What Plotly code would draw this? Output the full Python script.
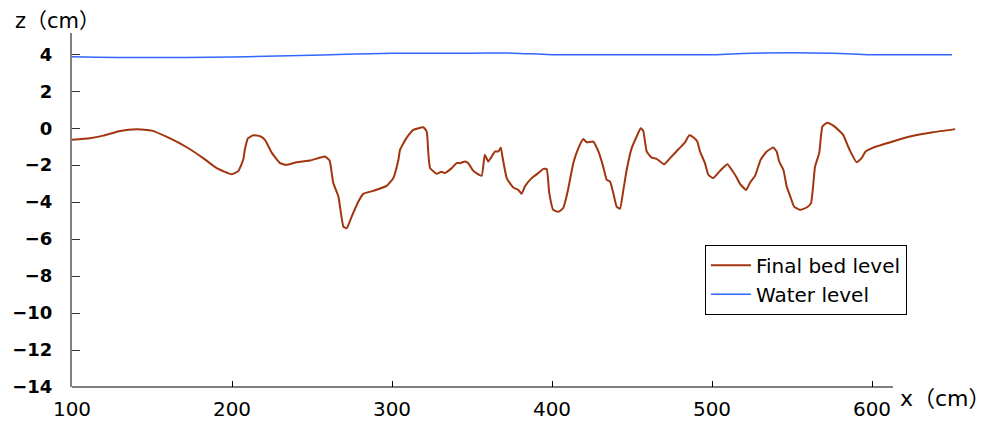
import plotly.graph_objects as go

# Final bed level (x in cm, z in cm)
bed_x = [100, 111, 119.6, 130, 140.4, 149.8, 161, 171.7, 182, 190.4, 199.8, 204, 207, 208, 210,
         213.3, 217.5, 220.6, 224.8, 230, 234, 240.4, 248.8, 258, 261, 263.3, 266.5, 269.6, 271.7,
         274.8, 279, 282, 288.3, 296.7, 300.8, 304, 305, 309, 313.3, 319.6, 321.7, 322.7, 323.8,
         327.9, 331, 333, 337.3, 340.4, 342.5, 345.6, 347.7, 350.8, 356, 358, 360.2, 364.4, 366.5,
         368, 369, 371.7, 375.8, 379, 381, 383, 387.3, 391.4, 394.6, 396.7, 398.3, 400.8, 404, 407,
         410, 413.3, 416.5, 419.6, 421.7, 425.8, 429, 432, 434.2, 436.3, 438.3, 440.4, 442.5, 444.6,
         446.7, 449.8, 452.9, 455.4, 457, 459.2, 462.3, 465.4, 470, 473.8, 479, 483, 485.8, 488.3,
         490.8, 492.5, 495.6, 497.7, 500.8, 505, 509.6, 512.3, 515.4, 517.5, 521.3, 523.8, 526.9,
         530.4, 534.2, 538.3, 540.4, 542, 544.6, 546.7, 548.8, 551.3, 555, 559.2, 561.9, 564.4, 567,
         569, 572, 575.8, 580, 582, 586, 590.4, 593.5, 596, 600.8, 613, 623.8, 638, 652]
bed_z = [-0.63, -0.54, -0.40, -0.15, -0.06, -0.13, -0.54, -1.03, -1.62, -2.16, -2.49, -2.31, -1.71,
         -1.17, -0.54, -0.38, -0.43, -0.63, -1.32, -1.89, -1.98, -1.84, -1.75, -1.53, -1.75, -2.97,
         -3.70, -5.32, -5.41, -4.78, -3.97, -3.55, -3.39, -3.12, -2.70, -1.71, -1.17, -0.54, -0.09,
         0.05, -0.18, -1.35, -2.16, -2.47, -2.35, -2.43, -2.16, -1.89, -1.89, -1.80, -1.89, -2.31,
         -2.58, -1.44, -1.80, -1.26, -1.26, -1.05, -1.53, -2.70, -3.21, -3.34, -3.55, -3.16, -2.70,
         -2.43, -2.20, -2.22, -3.51, -4.42, -4.52, -4.32, -3.34, -1.89, -1.08, -0.59, -0.76, -0.72,
         -1.26, -2.08, -2.79, -2.89, -3.51, -4.24, -4.36, -3.34, -2.25, -1.08, -0.45, 0.0, -0.13,
         -1.26, -1.59, -1.66, -1.95, -1.62, -1.14, -0.78, -0.38, -0.49, -0.72, -1.26, -1.89, -2.52,
         -2.70, -2.31, -1.95, -2.25, -2.67, -3.01, -3.34, -2.94, -2.58, -1.71, -1.26, -1.05, -1.26,
         -1.80, -2.25, -3.16, -3.66, -4.24, -4.42, -4.29, -4.05, -2.08, -1.35, 0.09, 0.30, 0.14,
         -0.18, -0.36, -1.17, -1.84, -1.62, -1.26, -1.05, -0.72, -0.45, -0.22, -0.05]

# Water level
water_x = [100, 150, 200, 250, 300, 350, 375, 400, 450, 500, 525, 575, 600, 650]
water_z = [3.87, 3.82, 3.85, 3.95, 4.05, 4.06, 4.06, 3.98, 3.98, 3.98, 4.06, 4.06, 3.98, 3.98]

x_ticks = [100, 200, 300, 400, 500, 600]
y_ticks = [4, 2, 0, -2, -4, -6, -8, -10, -12, -14]

FONT = "DejaVu Sans, Noto Sans CJK JP"

fig = go.Figure()
fig.add_trace(go.Scatter(x=bed_x, y=bed_z, mode="lines", name="Final bed level",
                         line=dict(color="#A0350F", width=2, shape="spline", smoothing=0.4)))
fig.add_trace(go.Scatter(x=water_x, y=water_z, mode="lines", name="Water level",
                         line=dict(color="#3366FF", width=1.5, shape="spline", smoothing=1.0)))

fig.update_layout(
    width=982, height=421,
    margin=dict(l=64, r=34, t=25, b=42, autoexpand=False),
    paper_bgcolor="white", plot_bgcolor="white",
    font=dict(family=FONT, color="black", size=17),
    showlegend=True,
    legend=dict(x=0.716, y=0.402, xanchor="left", yanchor="top",
                bordercolor="black", borderwidth=1, bgcolor="white",
                font=dict(family=FONT, size=20), tracegroupgap=0,
                itemwidth=40),
    xaxis=dict(range=[100, 652.5], tickvals=x_ticks, ticktext=[str(v) for v in x_ticks],
               showgrid=False, zeroline=False, showline=False, automargin=False,
               ticks="inside", ticklen=6, tickcolor="black", tickwidth=1,
               tickfont=dict(family=FONT, size=20, color="black"),
               ticklabelstandoff=8),
    yaxis=dict(range=[-14, 5.15], tickvals=y_ticks, automargin=False,
               showgrid=False, zeroline=False, showline=True, linecolor="#808080", linewidth=2,
               ticks="inside", ticklen=8, tickcolor="#333333", tickwidth=1,
               tickfont=dict(family=FONT, size=18, color="black", weight="bold"),
               ticklabelstandoff=14),
    shapes=[dict(type="line", xref="paper", yref="paper", x0=0, x1=0.9287, y0=0, y1=0,
                 line=dict(color="black", width=1.2))],
    annotations=[
        dict(text="z（cm）", xref="paper", yref="paper", x=-0.067, y=1.034,
             xanchor="left", yanchor="middle", showarrow=False,
             font=dict(family=FONT, size=21, color="black")),
        dict(text="x（cm）", xref="paper", yref="paper", x=0.9344, y=-0.033,
             xanchor="left", yanchor="middle", showarrow=False,
             font=dict(family=FONT, size=22, color="black")),
    ],
)

fig.write_html("out.html")
